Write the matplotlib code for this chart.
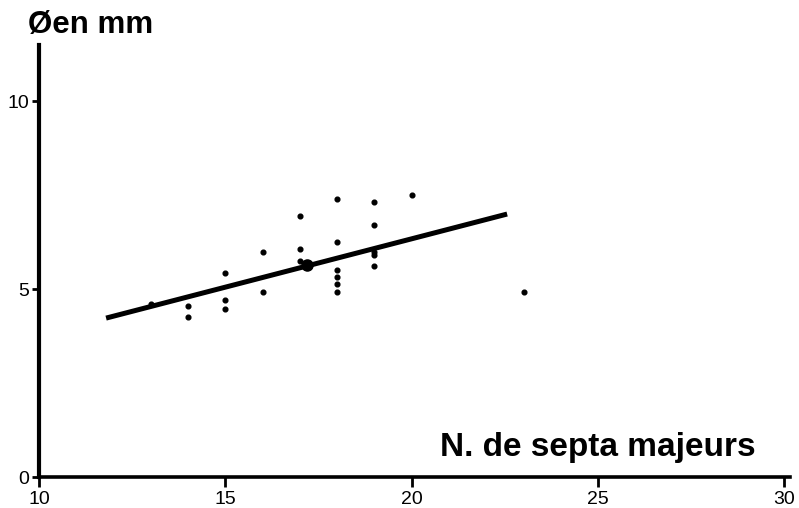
import matplotlib
matplotlib.use("Agg")
import matplotlib.pyplot as plt

# data
septa = [13, 14, 14, 15, 15, 15, 16, 16, 17, 17, 17, 18, 18, 18, 18, 18, 18,
         19, 19, 19, 19, 19, 20, 23]
diam = [4.61, 4.54, 4.25, 5.43, 4.70, 4.46, 5.98, 4.93, 6.94, 6.06, 5.74,
        7.41, 6.26, 5.51, 5.32, 5.13, 4.93, 7.31, 6.72, 5.98, 5.90, 5.61, 7.51, 4.92]
mean_pt = (17.2, 5.64)
line_x = [11.8, 22.56]
line_y = [4.23, 7.00]

xticks = [10, 15, 20, 25, 30]
yticks = [0, 5, 10]

plt.rcParams['font.family'] = ['Liberation Sans', 'DejaVu Sans']

fig = plt.figure(figsize=(7.99, 5.08), dpi=100)
ax = fig.add_axes([39/799, 31/508, (790-39)/799, (477-45)/508])
ax.set_xlim(10, 30.15)
ax.set_ylim(0, 11.5)

ax.plot(line_x, line_y, color='black', lw=3.6, solid_capstyle='butt', zorder=2)
ax.plot(septa, diam, 'o', color='black', ms=3.4, zorder=3)
ax.plot([mean_pt[0]], [mean_pt[1]], 'o', color='black', ms=8, zorder=4)

for s in ['top', 'right']:
    ax.spines[s].set_visible(False)
ax.spines['left'].set_linewidth(3.0)
ax.spines['bottom'].set_linewidth(2.6)

ax.set_xticks(xticks)
ax.set_yticks(yticks)
ax.tick_params(axis='x', direction='out', length=7, width=2, labelsize=14, pad=3)
ax.tick_params(axis='y', direction='out', length=5, width=2, labelsize=14, pad=2)

ax.text((440-39)/751, (477-456)/432, 'N. de septa majeurs', transform=ax.transAxes,
        fontsize=24, fontweight='bold', ha='left', va='baseline')
fig.text(28/799, 1 - 33/508, 'Øen mm', fontsize=22.5, fontweight='bold',
         ha='left', va='baseline')

fig.savefig('out.png', dpi=100, facecolor='white')
